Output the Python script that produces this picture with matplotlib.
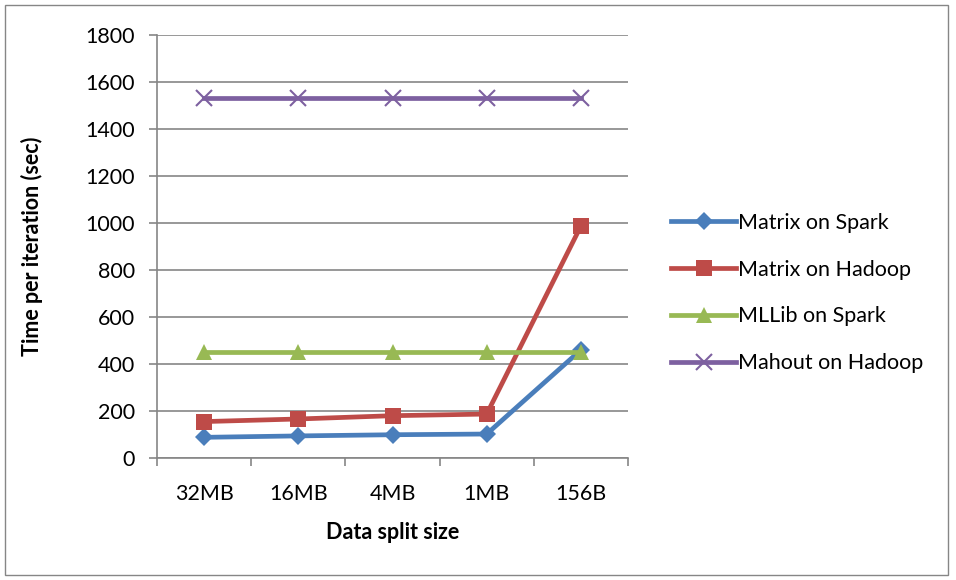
import matplotlib
matplotlib.use("Agg")
import matplotlib.pyplot as plt
from matplotlib.patches import Rectangle
import numpy as np

categories = ["32MB", "16MB", "4MB", "1MB", "156B"]
matrix_spark = [88, 94, 99, 102, 460]
matrix_hadoop = [155, 166, 180, 187, 987]
mllib_spark = [451, 451, 451, 451, 451]
mahout_hadoop = [1532, 1532, 1532, 1532, 1532]
yticks = [0, 200, 400, 600, 800, 1000, 1200, 1400, 1600, 1800]

plt.rcParams['font.family'] = ['Lato', 'DejaVu Sans']

W, H = 956, 580
fig = plt.figure(figsize=(W/100, H/100), dpi=100)
ax = fig.add_axes([157/W, 1-458/H, (628-157)/W, (458-35)/H])

x = np.arange(len(categories))
series = [
    (matrix_spark, "Matrix on Spark", "#4A7EBB", "D", 9),
    (matrix_hadoop, "Matrix on Hadoop", "#BE4B48", "s", 11),
    (mllib_spark, "MLLib on Spark", "#98B954", "^", 12),
    (mahout_hadoop, "Mahout on Hadoop", "#7D60A0", "x", 12),
]
for vals, lab, col, m, ms in series:
    kw = dict(markeredgewidth=1.5) if m == "x" else dict(markeredgewidth=0)
    ax.plot(x, vals, color=col, lw=3.4, marker=m, markersize=ms,
            markerfacecolor=col, markeredgecolor=col, label=lab, **kw)

fs = 15.5
ax.set_xlim(-0.5, 4.5)
ax.set_ylim(0, 1800)
ax.set_yticks(yticks)
ax.set_yticklabels([str(v) for v in yticks], fontsize=fs)
ax.set_xticks(x)
ax.set_xticklabels(categories, fontsize=fs)
ax.set_xticks(np.arange(-0.5, 5, 1), minor=True)
ax.tick_params(axis='x', which='major', length=0, pad=19)
ax.tick_params(axis='x', which='minor', length=6, color='#868686', width=1.2)
ax.tick_params(axis='y', length=6, color='#868686', width=1.2, pad=10)
ax.grid(axis='y', color='#868686', lw=1.2)
ax.set_axisbelow(True)
for s in ['top', 'right']:
    ax.spines[s].set_visible(False)
for s in ['left', 'bottom']:
    ax.spines[s].set_color('#868686')
    ax.spines[s].set_linewidth(1.2)

ax.set_xlabel("Data split size", fontsize=fs, fontweight='bold', labelpad=13)
ax.set_ylabel("Time per iteration (sec)", fontsize=fs, fontweight='bold', labelpad=30)

leg = fig.legend(loc='center left', bbox_to_anchor=(652/W, 1-293/H), frameon=False,
                 fontsize=fs, handlelength=3.0, handletextpad=0.1, labelspacing=1.25)

fig.patches.append(Rectangle((5/W, 5/H), (948-5)/W, (575-5)/H, transform=fig.transFigure,
                             fill=False, edgecolor='#868686', lw=1.0))
fig.savefig("out.png", dpi=100)
